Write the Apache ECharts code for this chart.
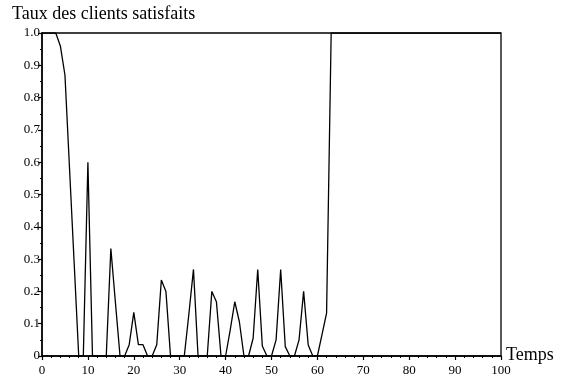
<!DOCTYPE html>
<html>
<head>
<meta charset="utf-8">
<script src="https://cdn.jsdelivr.net/npm/echarts@6/dist/echarts.min.js"></script>
<style>html,body{margin:0;padding:0;background:#fff}#c{width:574px;height:383px}</style>
</head>
<body>
<div id="c"></div>
<script>
var yTitle = 'Taux des clients satisfaits';
var xTitle = 'Temps';
var times = [];
for (var i = 0; i <= 100; i++) times.push(i);
var rates = [
  1, 1, 1, 1, 0.96, 0.87, 0.58, 0.29, 0, 0,
  0.6, 0, 0, 0, 0, 0.333, 0.165, 0, 0, 0.035,
  0.135, 0.035, 0.035, 0, 0, 0.035, 0.235, 0.2, 0, 0,
  0, 0, 0.13, 0.268, 0, 0, 0, 0.2, 0.168, 0,
  0, 0.08, 0.168, 0.106, 0, 0, 0.055, 0.268, 0.031, 0,
  0, 0.05, 0.268, 0.029, 0, 0, 0.05, 0.2, 0.034, 0,
  0, 0.066, 0.133, 1, 1, 1, 1, 1, 1, 1,
  1, 1, 1, 1, 1, 1, 1, 1, 1, 1,
  1, 1, 1, 1, 1, 1, 1, 1, 1, 1,
  1, 1, 1, 1, 1, 1, 1, 1, 1, 1,
  1
];
var points = times.map(function (t, i) { return [t, rates[i]]; });
var serif = 'Liberation Serif';
var chart = echarts.init(document.getElementById('c'), null, {renderer: 'canvas'});
chart.setOption({
  animation: false,
  backgroundColor: '#fff',
  grid: {left: 42, right: 73, top: 33, bottom: 27, show: true, borderColor: '#000', borderWidth: 1.3, backgroundColor: 'transparent'},
  graphic: [{
    type: 'text', left: 12, top: 5,
    style: {text: yTitle, font: '18px "' + serif + '"', fill: '#000'}
  }, {
    type: 'text', x: 506, y: 355,
    style: {text: xTitle, font: '18px "' + serif + '"', fill: '#000', textVerticalAlign: 'middle', textAlign: 'left'}
  }],
  xAxis: {
    type: 'value', min: 0, max: 100, interval: 10,
    axisLine: {lineStyle: {color: '#000', width: 1.5}},
    axisTick: {length: 4, lineStyle: {color: '#000', width: 1.2}},
    minorTick: {show: true, splitNumber: 5, length: 2, lineStyle: {color: '#000'}},
    axisLabel: {fontFamily: serif, fontSize: 13, color: '#000', margin: 8},
    splitLine: {show: false}
  },
  yAxis: {
    type: 'value', min: 0, max: 1, interval: 0.1,
    axisLine: {show: true, lineStyle: {color: '#000', width: 1.5}},
    axisTick: {show: true, length: 4, lineStyle: {color: '#000', width: 1.2}},
    minorTick: {show: true, splitNumber: 2, length: 2, lineStyle: {color: '#000'}},
    axisLabel: {fontFamily: serif, fontSize: 13, color: '#000', margin: 2,
      formatter: function (v) { return v === 0 ? '0' : v.toFixed(1); }},
    splitLine: {show: false}
  },
  series: [{
    type: 'line', data: points, showSymbol: false,
    lineStyle: {color: '#000', width: 1.3}
  }]
});
</script>
</body>
</html>
